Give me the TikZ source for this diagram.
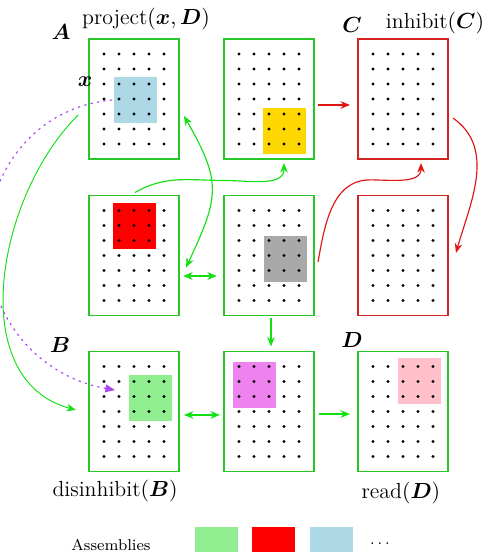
\RequirePackage{fix-cm}
\documentclass[tikz,border=0pt]{standalone}
\usepackage{bm}
\usetikzlibrary{arrows.meta}
\tikzset{>={Stealth[length=5pt,width=4pt]}}

\definecolor{boxgreen}{RGB}{40,200,40}
\definecolor{boxred}{RGB}{210,35,35}
\definecolor{arrowgreen}{RGB}{20,225,20}
\definecolor{arrowred}{RGB}{225,20,20}
\definecolor{dashviolet}{RGB}{170,70,240}
\definecolor{lightblue}{RGB}{173,216,230}
\definecolor{gold}{RGB}{255,215,0}
\definecolor{darkgray}{RGB}{169,169,169}
\definecolor{lightgreen}{RGB}{144,238,144}
\definecolor{violet}{RGB}{238,130,238}
\definecolor{pink}{RGB}{255,192,203}

\begin{document}
\begin{tikzpicture}[x=0.2752cm,y=0.2752cm,
  every node/.style={font=\fontsize{11.4}{14}\selectfont},
  box/.style={draw=boxgreen,line width=0.9pt,minimum width=1.651cm,
              minimum height=2.2016cm,inner sep=0pt,outer sep=0pt},
  redbox/.style={box,draw=boxred},
  asm/.style={minimum width=0.79cm,minimum height=0.84cm,inner sep=0pt,
              outer sep=0pt},
  greenarrow/.style={draw=arrowgreen,line width=0.6pt},
  redarrow/.style={draw=arrowred,line width=0.6pt},
  violetdash/.style={draw=dashviolet,line width=0.6pt,
                     dash pattern=on 1.2pt off 2.2pt}]
\clip (0,0) rectangle (32.267,36.8);

% the nine areas
\node[box]    (A) at (8.933,30.2)   {};
\node[box]    (Y) at (17.933,30.2)  {};
\node[redbox] (C) at (26.867,30.2)  {};
\node[box]    (R) at (8.933,19.767) {};
\node[box]    (G) at (17.933,19.767){};
\node[redbox] (E) at (26.867,19.767){};
\node[box]    (B) at (8.933,9.367)  {};
\node[box]    (V) at (17.933,9.367) {};
\node[box]    (D) at (26.867,9.367) {};

% assemblies
\node[asm,fill=lightblue]  (xA) at ([shift={(0.1,-0.07)}]A.center) {};
\node[asm,fill=gold]       (xY) at ([shift={(1.03,-2.13)}]Y.center) {};
\node[asm,fill=red]        (xR) at ([shift={(0.03,1.97)}]R.center) {};
\node[asm,fill=darkgray]   (xG) at ([shift={(1.1,-0.23)}]G.center) {};
\node[asm,fill=lightgreen] (xB) at ([shift={(1.1,0.9)}]B.center) {};
\node[asm,fill=violet]     (xV) at ([shift={(-0.97,1.77)}]V.center) {};
\node[asm,fill=pink]       (xD) at ([shift={(1.1,2.03)}]D.center) {};

% neurons
\foreach \n in {A,Y,C,R,G,E,B,V,D}
  \foreach \i in {-2,...,2}
    \foreach \j in {-3,...,3}
      \fill ([shift={(\i,\j)}]\n.center) circle (0.8pt);

% labels
\node (tA)   at (4.07,34.67)  {$\bm{A}$};
\node (tP)   at (9.73,35.53)  {project$(\bm{x},\bm{D})$};
\node (tC)   at (23.47,35.13) {$\bm{C}$};
\node (tI)   at (29.0,35.27)  {inhibit$(\bm{C})$};
\node (tx)   at (5.67,31.33)  {$\bm{x}$};
\node (tB)   at (4.0,13.8)    {$\bm{B}$};
\node (tD)   at (23.47,14.13) {$\bm{D}$};
\node (tDis) at (7.67,4.07)   {disinhibit$(\bm{B})$};
\node (tRd)  at (26.73,3.93)  {read$(\bm{D})$};

% red connections
\draw[redarrow,->] ([shift={(0.27,-0.4)}]Y.east) -- ([shift={(-0.53,-0.4)}]C.west);
\draw[redarrow,->] ([shift={(0.33,-1.27)}]C.east) to[out=-35,in=74]
      ([shift={(0.53,0.17)}]E.east);
\draw[redarrow,->] ([shift={(0.27,-0.43)}]G.east) to[out=80,in=180]
      ++(3.47,5.47) to[out=0,in=-90] ([shift={(1.2,-0.27)}]C.south);

% green connections
\draw[greenarrow,->] ([shift={(0.07,0.2)}]R.north) to[out=30,in=180]
      ++(6,0.8) to[out=0,in=-90] ([shift={(1,-0.27)}]Y.south);
\draw[greenarrow,<->] ([shift={(0.33,-1.13)}]A.east) to[out=-60,in=65,looseness=1.3]
      ([shift={(0.47,-0.8)}]R.east);
\draw[greenarrow,<->] ([shift={(0.27,-1.37)}]R.east) -- ([shift={(-0.47,-1.37)}]G.west);
\draw[greenarrow,->] ([shift={(0.13,-0.17)}]G.south) -- ([shift={(0.13,0.33)}]V.north);
\draw[greenarrow,<->] ([shift={(0.33,-0.23)}]B.east) -- ([shift={(-0.27,-0.23)}]V.west);
\draw[greenarrow,->] ([shift={(0.33,-0.17)}]V.east) -- ([shift={(-0.53,-0.17)}]D.west);
\draw[greenarrow,line width=0.5pt,->] ([shift={(-0.73,-1.07)}]A.west)
      to[out=-135,in=165] ([shift={(-0.87,0.1)}]B.west);

% projection of x
\draw[violetdash,-{Triangle[length=5pt,width=4pt]}] ([shift={(-0.13,0)}]xA.west)
      to[out=185,in=90] ++(-8.3,-9.47) to[out=-90,in=170]
      ([shift={(-0.93,0.53)}]xB.west);

% legend
\node (tAs) at (7.4,0.47) {\fontsize{8.2}{10}\selectfont Assemblies};
\node[asm,fill=lightgreen] (l1) at (14.43,0.13) {};
\node[asm,fill=red]        (l2) at (18.23,0.13) {};
\node[asm,fill=lightblue]  (l3) at (22.1,0.13)  {};
\node (tdots) at (25.33,0.55) {\fontsize{8.2}{10}\selectfont$\ldots$};
\end{tikzpicture}
\end{document}
